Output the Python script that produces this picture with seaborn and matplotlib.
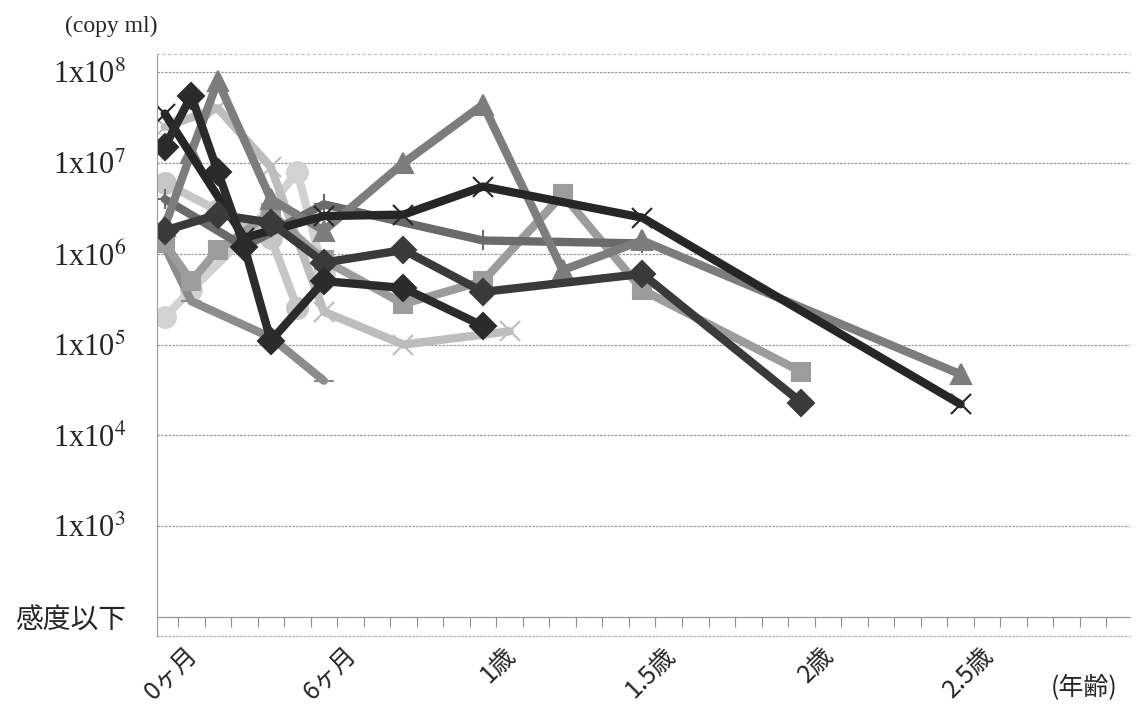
import numpy as np
import pandas as pd
import seaborn as sns
import matplotlib.pyplot as plt
from matplotlib.transforms import ScaledTranslation

# months since birth / viral load (copy/ml), one pair of lists per child
months_a = [0, 1, 2, 3, 4, 6, 9, 12]
copies_a = [1.5e7, 5.5e7, 8e6, 1.2e6, 1.1e5, 5e5, 4.2e5, 1.6e5]

months_b = [0, 2, 4, 6, 9, 12, 18, 24]
copies_b = [1.8e6, 2.7e6, 2.2e6, 8e5, 1.1e6, 3.8e5, 6e5, 2.3e4]

months_c = [0, 1, 2, 4, 6, 9, 12, 15, 18, 30]
copies_c = [2e6, 1.3e7, 8e7, 4e6, 1.8e6, 1e7, 4.4e7, 6.6e5, 1.4e6, 4.7e4]

months_d = [0, 3, 6, 9, 12, 18, 30]
copies_d = [3.5e7, 1.5e6, 2.6e6, 2.7e6, 5.5e6, 2.5e6, 2.2e4]

months_e = [0, 3, 6, 12, 18]
copies_e = [4e6, 1.2e6, 3.5e6, 1.4e6, 1.3e6]

months_f = [0, 1, 2, 4, 6, 9, 12, 15, 18, 24]
copies_f = [1.3e6, 5e5, 1.1e6, 2.8e6, 8.5e5, 2.8e5, 5e5, 4.5e6, 4e5, 5e4]

months_g = [0, 1, 4, 6]
copies_g = [1.2e6, 3e5, 1.2e5, 4e4]

months_h = [0, 2, 4, 6, 9, 13]
copies_h = [2.5e7, 4e7, 9e6, 2.3e5, 1e5, 1.4e5]

months_i = [0, 1, 3, 5, 6]
copies_i = [2e5, 4e5, 1.5e6, 8e6, 6e5]

months_j = [0, 2, 4, 5]
copies_j = [6e6, 3e6, 1.5e6, 2.5e5]

tick_months = [0, 6, 12, 18, 24, 30]
tick_labels = ['0ヶ月', '6ヶ月', '1歳', '1.5歳', '2歳', '2.5歳']
ytick_exp = [3, 4, 5, 6, 7, 8]

# drawing order: light lines first, dark ones on top
series = [
    ('j', months_j, copies_j, '#c6c6c6', 'o'),
    ('i', months_i, copies_i, '#d2d2d2', 'o'),
    ('h', months_h, copies_h, '#bdbdbd', 'x'),
    ('g', months_g, copies_g, '#8c8c8c', '_'),
    ('f', months_f, copies_f, '#9c9c9c', 's'),
    ('e', months_e, copies_e, '#6a6a6a', '+'),
    ('c', months_c, copies_c, '#7d7d7d', '^'),
    ('d', months_d, copies_d, '#262626', 'x'),
    ('b', months_b, copies_b, '#3a3a3a', 'D'),
    ('a', months_a, copies_a, '#2b2b2b', 'D'),
]

rows = []
for name, m, c, _, _ in series:
    for mm, cc in zip(m, c):
        rows.append({'child': name, 'month': mm, 'copies': cc})
df = pd.DataFrame(rows)

sns.set_style('white')
plt.rcParams['font.family'] = ['Noto Sans CJK JP', 'DejaVu Sans']
plt.rcParams['mathtext.fontset'] = 'stix'

fig = plt.figure(figsize=(11.36, 7.08), dpi=100)
ax = fig.add_axes([0.138, 0.1017, 0.857, 0.822])

for name, m, c, color, marker in series:
    msize = 13 if marker in ('D', 's') else 15
    sns.lineplot(x='month', y='copies', data=df[df['child'] == name], color=color,
                 marker=marker, markersize=msize, markeredgecolor=color,
                 markeredgewidth=1.5, linewidth=6, sort=False, ax=ax,
                 solid_joinstyle='round', solid_capstyle='round')

ax.set_yscale('log')
ax.set_ylim(10 ** 1.79, 10 ** 8.2)
ax.set_xlim(-0.3, 36.4)

# spines first: moving a spine resets the tick labels
ax.spines['bottom'].set_position(('data', 100))
ax.spines['bottom'].set_color('#9a9a9a')
ax.spines['left'].set_color('#9a9a9a')
ax.spines['left'].set_linestyle((0, (2, 1)))
ax.spines['top'].set_color('#c0c0c0')
ax.spines['top'].set_linestyle((0, (2, 3)))
ax.spines['right'].set_visible(False)

# horizontal grid at every decade
for e in [2] + ytick_exp:
    ax.axhline(10 ** e, color='#9a9a9a', linewidth=0.9, linestyle=(0, (2, 1)), zorder=0)
ax.axhline(10 ** 1.79, color='#b0b0b0', linewidth=0.9, linestyle=(0, (2, 1)), clip_on=False)

ax.set_yticks([10 ** 2] + [10 ** e for e in ytick_exp])
ax.set_yticklabels(['感度以下'] + ['1x10$^{%d}$' % e for e in ytick_exp])
ax.yaxis.set_minor_locator(plt.NullLocator())
for lab in ax.get_yticklabels():
    if lab.get_text() == '感度以下':
        lab.set_fontsize(20)
    else:
        lab.set_fontfamily('Liberation Serif')
        lab.set_fontsize(22)
ax.tick_params(axis='y', length=0, pad=22)

# category-style ticks between months, labels on the months
ax.set_xticks(tick_months)
ax.set_xticks(np.arange(0.5, 36.5), minor=True)
ax.set_xticklabels(tick_labels, rotation=45, ha='right', rotation_mode='anchor', fontsize=18)
ax.tick_params(axis='x', which='major', bottom=True, length=0, pad=14)
ax.tick_params(axis='x', which='minor', bottom=True, direction='out', length=7,
               color='#909090', width=0.8)
for lab in ax.get_xticklabels():
    lab.set_transform(lab.get_transform() + ScaledTranslation(0.2, -0.06, fig.dpi_scale_trans))

ax.set_xlabel('')
ax.set_ylabel('')

fig.text(0.057, 0.955, '(copy ml)', fontfamily='Liberation Serif', fontsize=17)
fig.text(0.925, 0.018, '(年齢)', fontsize=18)

plt.savefig('out.png', dpi=100)
